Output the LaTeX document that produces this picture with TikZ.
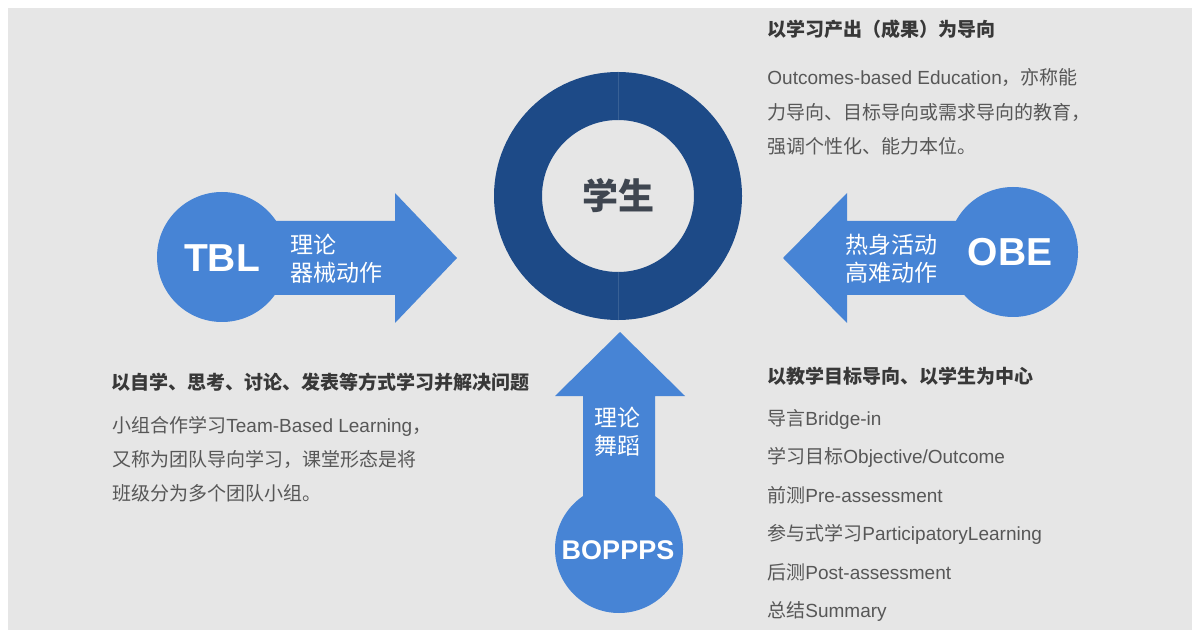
\documentclass[tikz,border=0pt]{standalone}
\usepackage{fontspec}
\setmainfont{Liberation Sans}
\newfontfamily\cjk{Noto Sans CJK SC}
\newcommand\zh[1]{{\cjk #1}}
\definecolor{bg}{HTML}{E6E6E6}
\definecolor{arrowblue}{HTML}{4784D5}
\definecolor{ringblue}{HTML}{1D4A87}
\definecolor{headgray}{HTML}{383838}
\definecolor{bodygray}{HTML}{575757}
\definecolor{centergray}{HTML}{3F4650}
\begin{document}
\begin{tikzpicture}[x=0.5pt,y=-0.5pt,
  headtext/.style={anchor=base west, inner sep=0, font=\fontsize{9.5}{11}\selectfont\bfseries\cjk, text=headgray},
  bodytext/.style={anchor=base west, inner sep=0, font=\fontsize{9.5}{11}\selectfont, text=bodygray},
  bubble/.style={circle, fill=arrowblue, minimum size=65pt, inner sep=0},
  badge/.style={text=white, inner sep=0, font=\fontsize{19.5}{20}\selectfont\bfseries},
  arrowlabel/.style={text=white, inner sep=0, font=\fontsize{11.5}{14}\selectfont\cjk, align=left}]
\useasboundingbox (0,0) rectangle (1192,630);
\fill[white] (0,0) rectangle (1192,630);
\fill[bg] (8,8) rectangle (1192,630);

% centre ring
\node[circle, draw=ringblue, line width=24pt, minimum size=100pt, inner sep=0,
      font=\fontsize{18}{20}\selectfont\bfseries\cjk, text=centergray] (student) at (618,196) {学生};
\draw[ringblue!88!white, line width=0.25pt] (618,72) -- (618,120) (618,272) -- (618,320);

% TBL arrow
\node[bubble] (tbl) at (222,257) {};
\fill[arrowblue] (222,221) -- (395,221) -- (395,193) -- (457,258) -- (395,323) -- (395,295) -- (222,295) -- cycle;
\node[badge] (tbllabel) at (222,258) {TBL};
\node[arrowlabel, anchor=west] (tbltext) at (290,259) {理论\\器械动作};

% OBE arrow
\node[bubble] (obe) at (1013,252) {};
\fill[arrowblue] (1013,221) -- (847,221) -- (847,193) -- (783,258) -- (847,323) -- (847,295) -- (1013,295) -- cycle;
\node[badge] (obelabel) at (1010,252) {OBE};
\node[arrowlabel, anchor=west] (obetext) at (845,259) {热身活动\\高难动作};

% BOPPPS arrow
\node[bubble, minimum size=64pt] (boppps) at (619,549) {};
\fill[arrowblue] (583,549) -- (583,396) -- (555,396) -- (620,332) -- (685,396) -- (655,396) -- (655,549) -- cycle;
\node[badge, font=\fontsize{13.5}{15}\selectfont\bfseries] (bopppslabel) at (618,550) {BOPPPS};
\node[arrowlabel, align=center] (bopppstext) at (617,432) {理论\\舞蹈};

% top-right text
\node[headtext] (obehead) at (767,37) {以学习产出（成果）为导向};
\node[bodytext] (obe1) at (767,85) {Outcomes-based Education\zh{，亦称能}};
\node[bodytext] (obe2) at (767,120) {\zh{力导向、目标导向或需求导向的教育，}};
\node[bodytext] (obe3) at (767,154) {\zh{强调个性化、能力本位。}};

% left text
\node[headtext] (tblhead) at (111,389) {以自学、思考、讨论、发表等方式学习并解决问题};
\node[bodytext] (tbl1) at (112,432) {\zh{小组合作学习}Team-Based Learning\zh{，}};
\node[bodytext] (tbl2) at (112,466) {\zh{又称为团队导向学习，课堂形态是将}};
\node[bodytext] (tbl3) at (112,500) {\zh{班级分为多个团队小组。}};

% bottom-right text
\node[headtext] (bophead) at (767,383) {以教学目标导向、以学生为中心};
\node[bodytext] (bop1) at (767,425) {\zh{导言}Bridge-in};
\node[bodytext] (bop2) at (767,463) {\zh{学习目标}Objective/Outcome};
\node[bodytext] (bop3) at (767,502) {\zh{前测}Pre-assessment};
\node[bodytext] (bop4) at (767,540) {\zh{参与式学习}ParticipatoryLearning};
\node[bodytext] (bop5) at (767,579) {\zh{后测}Post-assessment};
\node[bodytext] (bop6) at (767,617) {\zh{总结}Summary};
\end{tikzpicture}
\end{document}
